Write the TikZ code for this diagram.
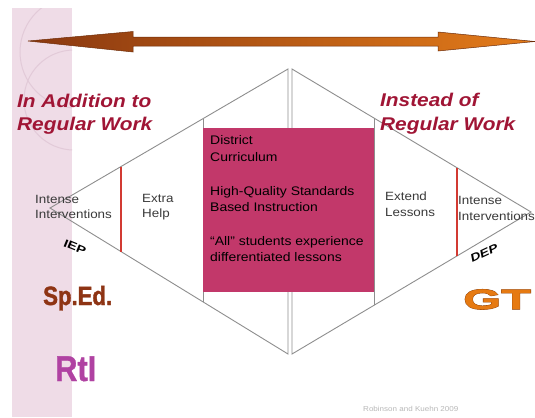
\documentclass[tikz,border=0pt]{standalone}
\usepackage{fontspec}
\setmainfont{Liberation Sans}
\newfontfamily\bodyf[FakeStretch=1.12]{Liberation Sans}
\newfontfamily\titlef[FakeStretch=1.13]{Liberation Sans}
\newfontfamily\widef[FakeStretch=1.3]{Liberation Sans}
\newfontfamily\spedf[FakeStretch=0.84,FakeBold=1.5]{Liberation Sans}
\newfontfamily\rtif[FakeStretch=0.86,FakeBold=1]{Liberation Sans}
\newfontfamily\gtf[FakeStretch=1.75,FakeBold=1.5]{Liberation Sans}
\newfontfamily\gtbackf[FakeStretch=1.75,FakeBold=4]{Liberation Sans}
\usetikzlibrary{calc}
\definecolor{stripcol}{HTML}{EFDCE7}
\definecolor{arccol}{HTML}{E2CAD8}
\definecolor{arrowL}{HTML}{8A3810}
\definecolor{arrowR}{HTML}{E47C1A}
\definecolor{arrowEdge}{HTML}{6E2C08}
\definecolor{diamcol}{HTML}{8E8E8E}
\definecolor{boxcol}{HTML}{C2386A}
\definecolor{boxink}{HTML}{2E0A18}
\definecolor{redcol}{HTML}{D23A32}
\definecolor{titlecol}{HTML}{A01535}
\definecolor{textgray}{HTML}{3A3A3A}
\definecolor{spedcol}{HTML}{8E3414}
\definecolor{rticol}{HTML}{B042A2}
\definecolor{gtcol}{HTML}{E67A12}
\definecolor{gtedge}{HTML}{7A3408}
\definecolor{citecol}{HTML}{B8B8B8}
\tikzset{
  diam/.style={draw=diamcol, line width=0.9bp},
  redline/.style={draw=redcol, line width=1.6bp},
  txt/.style={anchor=base west, inner sep=0, font=\bodyf\fontsize{12}{14}\selectfont, text=textgray},
  boxtxt/.style={anchor=base west, inner sep=0, font=\bodyf\fontsize{12.5}{15}\selectfont, text=black},
  ttl/.style={anchor=base west, inner sep=0, font=\titlef\bfseries\itshape\fontsize{18.5}{22}\selectfont, text=titlecol},
  tag/.style={inner sep=0, font=\widef\bfseries\fontsize{11}{13}\selectfont, text=black}
}
\begin{document}
\begin{tikzpicture}[x=1bp,y=-1bp]
\useasboundingbox (0,0) rectangle (535,417);
\fill[white] (0,0) rectangle (535,417);
% side strip
\fill[stripcol] (12,8) rectangle (72,417);
\begin{scope}
  \clip (12,8) rectangle (72,417);
  \draw[arccol, line width=1bp] (76,52) circle (56);
  \draw[arccol, line width=1bp] (74,100) circle (50);
\end{scope}
% double arrow
\shadedraw[left color=arrowL, right color=arrowR, draw=arrowEdge, line width=0.5bp]
  (28,41) -- (133,31.5) -- (133,37) -- (438,37) -- (438,32) -- (535,41.5)
  -- (438,51) -- (438,46) -- (133,46) -- (133,52) -- cycle;
% diamonds
\coordinate (LT) at (288,69);
\coordinate (LL) at (50,208);
\coordinate (LB) at (288,354);
\coordinate (RT) at (292,69);
\coordinate (RR) at (531,212);
\coordinate (RB) at (292,354);
\draw[diam] (LT) -- (LL) -- (LB) -- cycle;
\draw[diam] (RT) -- (RR) -- (RB) -- cycle;
\draw[diam] ($(LT)!0.357!(LL)$) -- ($(LB)!0.357!(LL)$);
\draw[diam] ($(RT)!0.343!(RR)$) -- ($(RB)!0.343!(RR)$);
% red dividers
\draw[redline] ($(LT)!0.7017!(LL)$) -- ($(LB)!0.7017!(LL)$);
\draw[redline] ($(RT)!0.690!(RR)$) -- ($(RB)!0.690!(RR)$);
% central box
\node[fill=boxcol, inner sep=0, minimum width=171bp, minimum height=164bp, anchor=north west] (box) at (203,128) {};
\node[boxtxt] (b1) at (210,144) {District};
\node[boxtxt] (b2) at (210,161) {Curriculum};
\node[boxtxt] (b3) at (210,195) {High-Quality Standards};
\node[boxtxt] (b4) at (210,211) {Based Instruction};
\node[boxtxt] (b5) at (210,245) {“All” students experience};
\node[boxtxt] (b6) at (210,261) {differentiated lessons};
% titles
\node[ttl] (t1) at (17,107) {In Addition to};
\node[ttl] (t2) at (17,130) {Regular Work};
\node[ttl] (t3) at (380,106) {Instead of};
\node[ttl] (t4) at (380,130) {Regular Work};
% side labels
\node[txt] (li1) at (35,203) {Intense};
\node[txt] (li2) at (35,218) {Interventions};
\node[txt] (eh1) at (142,202) {Extra};
\node[txt] (eh2) at (142,217) {Help};
\node[txt] (el1) at (385,200) {Extend};
\node[txt] (el2) at (385,216) {Lessons};
\node[txt] (ri1) at (458,204) {Intense};
\node[txt] (ri2) at (458,220) {Interventions};
\node[tag, rotate=-22] (iep) at (75,247) {IEP};
\node[tag, rotate=25, font=\widef\bfseries\itshape\fontsize{11}{13}\selectfont] (dep) at (484,253) {DEP};
% program labels
\node[anchor=base west, inner sep=0, text=spedcol, font=\spedf\bfseries\fontsize{26.5}{30}\selectfont] (sped) at (43,305) {Sp.Ed.};
\node[anchor=base west, inner sep=0, text=rticol, font=\rtif\bfseries\fontsize{36}{40}\selectfont] (rti) at (55,381) {RtI};
\node[anchor=base west, inner sep=0, text=gtedge, font=\gtbackf\bfseries\fontsize{28}{32}\selectfont] (gtb) at (463,309) {GT};
\node[anchor=base west, inner sep=0, text=gtcol, font=\gtf\bfseries\fontsize{28}{32}\selectfont] (gt) at (463,309) {GT};
% citation
\node[anchor=base west, inner sep=0, text=citecol, font=\bodyf\fontsize{7.2}{9}\selectfont] (cite) at (363,411) {Robinson and Kuehn 2009};
\end{tikzpicture}
\end{document}
